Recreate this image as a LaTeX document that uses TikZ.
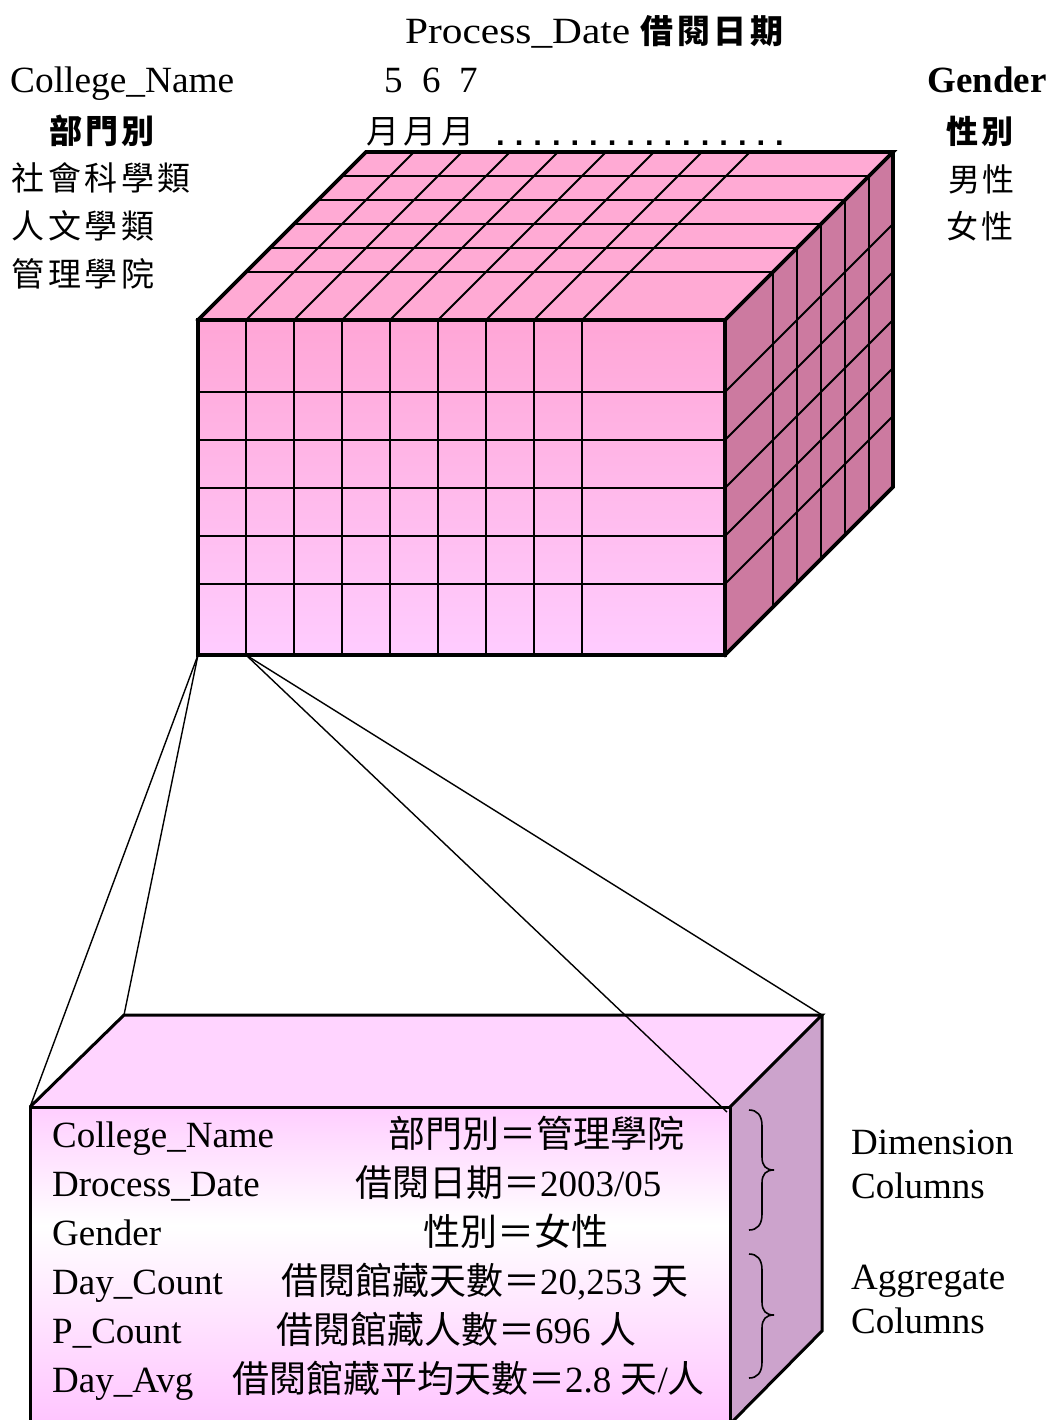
\documentclass[tikz,border=0pt]{standalone}
\usepackage{fontspec}
\usepackage{graphicx}
\setmainfont{Liberation Serif}
\newfontfamily\cjk{Noto Sans CJK TC}
\newfontfamily\dotfont{Liberation Mono}
\newcommand\fs[1]{\fontsize{#1}{#1}\selectfont}
\newlength\cpitch
\def\spreadchars#1{\ifx#1\relax\else\makebox[\cpitch][c]{#1}\expandafter\spreadchars\fi}
\newcommand\spread[2]{\setlength\cpitch{#1}\spreadchars#2\relax}
\definecolor{cubetop}{RGB}{255,170,212}
\definecolor{cuberight}{RGB}{204,122,160}
\definecolor{fronttop}{RGB}{255,166,214}
\definecolor{frontbot}{RGB}{255,204,255}
\definecolor{boxtop}{RGB}{255,212,255}
\definecolor{boxA}{RGB}{255,206,255}
\definecolor{boxB}{RGB}{255,196,255}
\definecolor{boxright}{RGB}{204,163,204}
\begin{document}
\begin{tikzpicture}[x=1pt,y=-1pt,
  txt/.style={inner sep=0pt, anchor=base west, font=\fs{37}},
  ctxt/.style={inner sep=0pt, anchor=base west, font=\fs{33}\cjk},
  cbold/.style={inner sep=0pt, anchor=base west, font=\fs{33}\cjk\bfseries},
  gridline/.style={line width=2pt},
  outerline/.style={line width=3.6pt, line join=miter, line cap=rect},
  boxline/.style={line width=3pt, line join=miter},
  conn/.style={line width=1.4pt},
  bracel/.style={line width=1.6pt}]
\useasboundingbox (0,0) rectangle (1051,1420);

% ---------- cube corners ----------
\coordinate (F1) at (198,320);
\coordinate (F2) at (725,320);
\coordinate (F3) at (725,655);
\coordinate (F4) at (198,655);
\coordinate (B1) at (366,152);
\coordinate (B2) at (893,152);
\coordinate (B3) at (893,487);
\coordinate (C1) at (246,655);

% faces
\fill[cubetop] (F1) -- (F2) -- (B2) -- (B1) -- cycle;
\fill[cuberight] (F2) -- (B2) -- (B3) -- (F3) -- cycle;
\shade[top color=fronttop, bottom color=frontbot] (F1) rectangle (F3);

% grid
\foreach \x in {246,294,...,582} {
  \draw[gridline] (\x,320) -- (\x,655);
  \draw[gridline] (\x,320) -- ({\x+168},152);
}
\foreach \y in {392,440,...,584} {
  \draw[gridline] (198,\y) -- (725,\y);
  \draw[gridline] (725,\y) -- (893,{\y-168});
}
\foreach \d in {48,72,96,120,144} {
  \draw[gridline] ({198+\d},{320-\d}) -- ({725+\d},{320-\d}) -- ({725+\d},{655-\d});
}
% outline
\draw[outerline] (F1) rectangle (F3);
\draw[outerline] (F1) -- (B1) -- (B2) -- (F2);
\draw[outerline] (B2) -- (B3) -- (F3);

% ---------- record box ----------
\coordinate (P1) at (30,1107);
\coordinate (P2) at (730,1107);
\coordinate (P3) at (730,1424);
\coordinate (P4) at (30,1424);
\coordinate (Q1) at (124,1015);
\coordinate (Q2) at (822,1015);
\coordinate (Q3) at (822,1331);
\coordinate (P2x) at (727,1112);

\fill[boxtop] (P1) -- (P2) -- (Q2) -- (Q1) -- cycle;
\fill[boxright] (P2) -- (Q2) -- (Q3) -- (P3) -- cycle;
\shade[top color=boxA, bottom color=white] (30,1107) rectangle (730,1226);
\shade[top color=white, bottom color=boxB] (30,1225) rectangle (730,1424);
\draw[boxline] (P4) -- (P1) -- (P2) -- (P3);
\draw[boxline] (P1) -- (Q1) -- (Q2) -- (P2);
\draw[boxline] (Q2) -- (Q3) -- (P3);

% connectors
\draw[conn] (F4) -- (P1);
\draw[conn] (F4) -- (Q1);
\draw[conn] (C1) -- (P2x);
\draw[conn] (C1) -- (Q2);

% braces
\draw[bracel] (749,1110) .. controls (757,1110) and (762,1115) .. (762,1126) -- (762,1157)
  .. controls (762,1166) and (766,1170) .. (774,1170)
  .. controls (766,1170) and (762,1174) .. (762,1183) -- (762,1214)
  .. controls (762,1225) and (757,1230) .. (749,1230);
\draw[bracel] (749,1254) .. controls (757,1254) and (762,1259) .. (762,1270) -- (762,1302)
  .. controls (762,1311) and (766,1315) .. (774,1315)
  .. controls (766,1315) and (762,1319) .. (762,1328) -- (762,1362)
  .. controls (762,1373) and (757,1378) .. (749,1378);

% ---------- top labels ----------
\node[txt] (pd) at (405,44) {\resizebox{225pt}{\height}{Process\_Date}};
\node[cbold] (pdc) at (639,44) {\spread{36.5pt}{借閱日期}};
\node[txt] (cn) at (10,93) {\resizebox{224pt}{\height}{College\_Name}};
\node[txt] (m5) at (384,93) {5};
\node[txt] (m6) at (422,93) {6};
\node[txt] (m7) at (459,93) {7};
\node[ctxt, font=\fs{33}\cjk] (mon) at (364,144) {\spread{37.5pt}{月月月}};
\node[inner sep=0pt, anchor=base west, font=\fs{31}\dotfont\bfseries] (dots) at (491,146) {................};
\node[cbold] (dept) at (48,144) {\spread{36pt}{部門別}};
\node[ctxt] (col1) at (10,191) {\spread{36.5pt}{社會科學類}};
\node[ctxt] (col2) at (10,239) {\spread{36.5pt}{人文學類}};
\node[ctxt] (col3) at (10,287) {\spread{36.5pt}{管理學院}};
\node[txt, font=\fs{37}\bfseries] (gen) at (927,93) {Gender};
\node[cbold, font=\fs{32}\cjk\bfseries] (genc) at (945,144) {\spread{35pt}{性別}};
\node[ctxt, font=\fs{32}\cjk] (male) at (947,192) {\spread{34pt}{男性}};
\node[ctxt, font=\fs{32}\cjk] (female) at (945,239) {\spread{35pt}{女性}};

% ---------- record text ----------
\node[txt] (r1a) at (52,1147) {College\_Name};
\node[txt] (r2a) at (52,1196) {Drocess\_Date};
\node[txt] (r3a) at (52,1245) {Gender};
\node[txt] (r4a) at (52,1294) {Day\_Count};
\node[txt] (r5a) at (52,1343) {P\_Count};
\node[txt] (r6a) at (52,1392) {Day\_Avg};
\node[txt] (r1b) at (388,1147) {\cjk 部門別＝管理學院};
\node[txt] (r2b) at (355,1196) {{\cjk 借閱日期＝}2003/05};
\node[txt] (r3b) at (423,1245) {\cjk 性別＝女性};
\node[txt] (r4b) at (281,1294) {{\cjk 借閱館藏天數＝}20,253 {\cjk 天}};
\node[txt] (r5b) at (276,1343) {{\cjk 借閱館藏人數＝}696 {\cjk 人}};
\node[txt] (r6b) at (232,1392) {{\cjk 借閱館藏平均天數＝}2.8 {\cjk 天}/{\cjk 人}};

\node[txt] (dim1) at (851,1154) {Dimension};
\node[txt] (dim2) at (851,1198) {Columns};
\node[txt] (agg1) at (851,1289) {Aggregate};
\node[txt] (agg2) at (851,1333) {Columns};
\end{tikzpicture}
\end{document}
